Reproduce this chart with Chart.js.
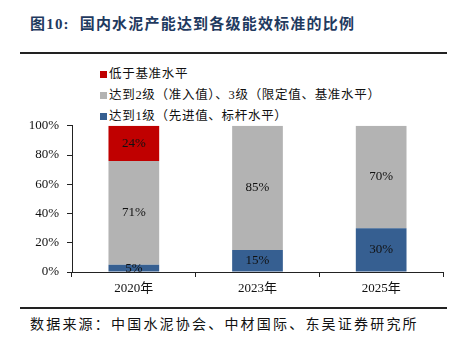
<!DOCTYPE html>
<html>
<head>
<meta charset="utf-8">
<script src="https://cdn.jsdelivr.net/npm/chart.js@4"></script>
<style>
  body { margin: 0; width: 454px; height: 341px; background: #fff; position: relative; overflow: hidden;
         font-family: 'Liberation Serif', 'Noto Sans CJK SC', serif; }
  #title { position: absolute; left: 30px; top: 12px; font-size: 15px; font-weight: bold; color: #1f3a5f; letter-spacing: 1.2px; white-space: nowrap; }
  .rule { position: absolute; left: 20px; width: 427px; height: 2px; background: #222; }
  #source { position: absolute; left: 30px; top: 313px; font-size: 14px; color: #111; letter-spacing: 2.2px; white-space: nowrap; }
  #legend { position: absolute; left: 100px; top: 66px; font-size: 12.5px; color: #111; letter-spacing: 0.7px; }
  #legend div { height: 21px; line-height: 16px; white-space: nowrap; }
  #legend span { display: inline-block; width: 7px; height: 7px; margin-right: 2px; }
  #wrap { position: absolute; left: 0; top: 110px; width: 454px; height: 190px; }
</style>
</head>
<body>
<div id="title">图10:&nbsp; 国内水泥产能达到各级能效标准的比例</div>
<div class="rule" style="top:52px"></div>
<div id="legend"></div>
<div id="wrap"><canvas id="chart"></canvas></div>
<div class="rule" style="top:307px"></div>
<div id="source">数据来源：中国水泥协会、中材国际、东吴证券研究所</div>
<script>
// 年份与各级占比（%）
const years = ['2020年', '2023年', '2025年'];
const level1 = [5, 15, 30];     // 达到1级
const level23 = [71, 85, 70];   // 达到2级、3级
const belowBase = [24, 0, 0];   // 低于基准水平
const yTicks = [0, 20, 40, 60, 80, 100];

const seriesNames = ['达到1级（先进值、标杆水平）', '达到2级（准入值）、3级（限定值、基准水平）', '低于基准水平'];
const seriesColors = ['#365f91', '#b3b3b3', '#c00000'];

// 图例：从上到下与堆叠顺序相反
const legend = document.getElementById('legend');
[2, 1, 0].forEach(i => {
  const row = document.createElement('div');
  row.innerHTML = '<span style="background:' + seriesColors[i] + '"></span>' + seriesNames[i];
  legend.appendChild(row);
});

// 在每段柱子中间写百分比
const segmentLabels = {
  id: 'segmentLabels',
  afterDatasetsDraw(chart) {
    const ctx = chart.ctx;
    ctx.save();
    ctx.font = '13px "Liberation Serif", serif';
    ctx.fillStyle = '#111';
    ctx.textAlign = 'center';
    ctx.textBaseline = 'middle';
    chart.data.datasets.forEach((ds, di) => {
      chart.getDatasetMeta(di).data.forEach((bar, i) => {
        const v = ds.data[i];
        if (!v) return;
        const mid = (bar.y + bar.base) / 2;
        ctx.fillText(v + '%', bar.x, mid);
      });
    });
    ctx.restore();
  }
};

const fontSerif = { family: "'Liberation Serif', 'Noto Sans CJK SC', serif", size: 13 };

new Chart(document.getElementById('chart'), {
  type: 'bar',
  data: {
    labels: years,
    datasets: [
      { label: seriesNames[0], data: level1, backgroundColor: seriesColors[0] },
      { label: seriesNames[1], data: level23, backgroundColor: seriesColors[1] },
      { label: seriesNames[2], data: belowBase, backgroundColor: seriesColors[2] }
    ]
  },
  options: {
    responsive: true,
    maintainAspectRatio: false,
    animation: false,
    layout: { autoPadding: false, padding: { top: 5, right: 11, bottom: 0, left: 0 } },
    datasets: { bar: { barPercentage: 0.41, categoryPercentage: 1, borderWidth: 0 } },
    plugins: { legend: { display: false }, tooltip: { enabled: false } },
    scales: {
      x: {
        stacked: true,
        grid: { offset: true, drawOnChartArea: false, drawTicks: true, tickLength: 5, color: '#222' },
        border: { color: '#222', width: 1 },
        ticks: { color: '#111', font: fontSerif, padding: 4 },
        afterFit: s => { s.height = 28; }
      },
      y: {
        stacked: true,
        min: 0,
        max: 100,
        afterBuildTicks: s => { s.ticks = yTicks.map(v => ({ value: v })); },
        grid: { drawOnChartArea: false, drawTicks: true, tickLength: 5, color: '#222' },
        border: { color: '#222', width: 1 },
        ticks: { color: '#111', font: fontSerif, padding: 8, callback: v => v + '%' },
        afterFit: s => { s.width = 72; }
      }
    }
  },
  plugins: [segmentLabels]
});
</script>
</body>
</html>
